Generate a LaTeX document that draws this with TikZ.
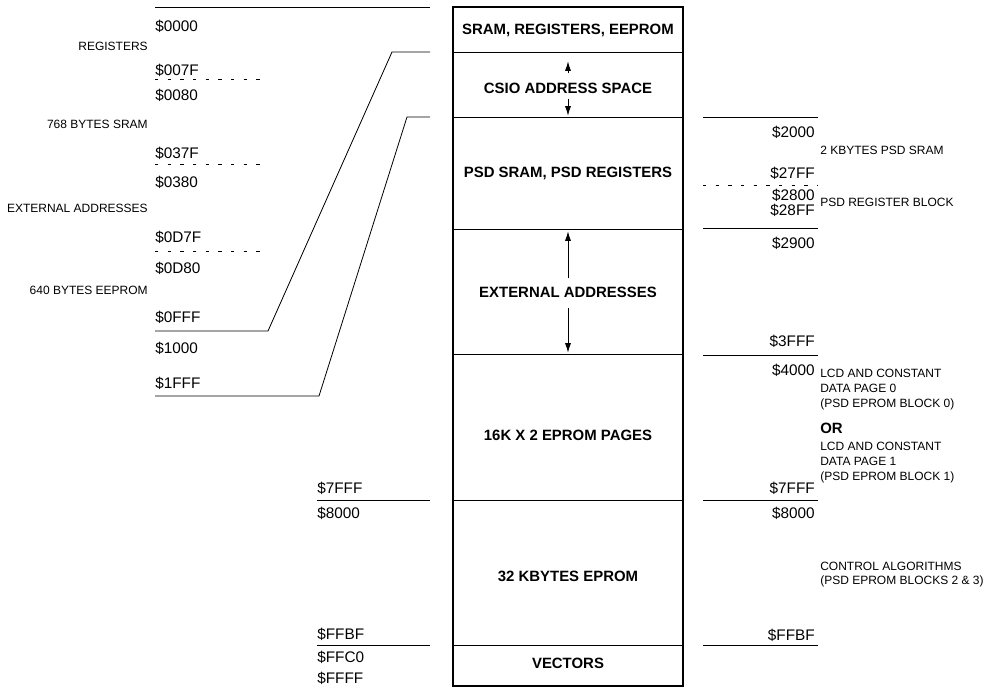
\documentclass[tikz,border=0pt]{standalone}
\usepackage{fontspec}
\setmainfont{Liberation Sans}
\usetikzlibrary{arrows.meta}

\begin{document}
\begin{tikzpicture}[
  x=0.75pt, y=-0.75pt,
  every node/.style={inner sep=0pt},
  addr/.style={font=\fontsize{11.5}{12}\selectfont},
  note/.style={font=\fontsize{9}{11.25}\selectfont, align=left},
  region/.style={font={\bfseries\fontsize{11.2}{12}\selectfont}},
  thinline/.style={line width=0.6pt},
  splitline/.style={thinline, dash pattern=on 2.5pt off 7pt},
  updown/.style={thinline, -{Latex[length=7pt,width=4.5pt]}}
]
\useasboundingbox (0,0) rectangle (989,687);

% memory map column
\draw[line width=1.4pt] (453,7) rectangle (683,686);
\foreach \y in {52,117,229,354,500,645}
  \draw[thinline] (453,\y) -- (683,\y);

\node[region] (sram)  at (568,30)  {SRAM, REGISTERS, EEPROM};
\node[region] (csio)  at (568,88)  {CSIO ADDRESS SPACE};
\node[region] (psd)   at (568,173) {PSD SRAM, PSD REGISTERS};
\node[region] (ext)   at (568,292) {EXTERNAL ADDRESSES};
\node[region] (pages) at (568,435) {16K X 2 EPROM PAGES};
\node[region] (eprom) at (568,576) {32 KBYTES EPROM};
\node[region] (vec)   at (568,663) {VECTORS};

\draw[updown] (csio.north) ++(0,-9) -- ++(0,-12);
\draw[updown] (csio.south) ++(0,5) -- ++(0,17);
\draw[updown] (ext.north) ++(0,-8) -- ++(0,-47);
\draw[updown] (ext.south) ++(0,10) -- ++(0,45);

% internal block, left
\draw[thinline] (155,7) -- (430,7);
\draw[thinline] (155,331) -- (268,331) -- (392,52) -- (430,52);
\draw[thinline] (155,396) -- (319,396) -- (407,117) -- (430,117);
\foreach \y in {79,164,251}
  \draw[splitline] (155,\y) -- (262,\y);
\draw[thinline] (317,500) -- (430,500);
\draw[thinline] (317,645) -- (430,645);

\foreach \y/\a in {26/0000,70/007F,95/0080,153/037F,182/0380,237/0D7F,268/0D80,317/0FFF,348/1000,383/1FFF}
  \node[addr, anchor=west] (lo\a) at (155,\y) {\$\a};
\foreach \y/\a in {488/7FFF,513/8000,634/FFBF,657/FFC0,678/FFFF}
  \node[addr, anchor=west] (hi\a) at (317,\y) {\$\a};

\node[note, anchor=east] (regs)  at (148,46)  {REGISTERS};
\node[note, anchor=east] (isram) at (148,124) {768 BYTES SRAM};
\node[note, anchor=east] (iext)  at (148,208) {EXTERNAL ADDRESSES};
\node[note, anchor=east] (ieep)  at (148,290) {640 BYTES EEPROM};

% PSD side, right
\foreach \y in {117,228,355,500,645}
  \draw[thinline] (703,\y) -- (818,\y);
\draw[splitline] (703,185) -- (818,185);

\foreach \y/\a in {132/2000,173/27FF,195/2800,210/28FF,243/2900,341/3FFF,370/4000,488/7FFF,513/8000,635/FFBF}
  \node[addr, anchor=east] (ps\a) at (815,\y) {\$\a};

\node[note, anchor=west] (psram) at (820,150) {2 KBYTES PSD SRAM};
\node[note, anchor=west] (preg)  at (820,202) {PSD REGISTER BLOCK};
\node[note, anchor=west] (page0) at (820,390) {LCD AND CONSTANT\\DATA PAGE 0\\(PSD EPROM BLOCK 0)};
\node[region, anchor=west] (or)  at (820,428) {OR};
\node[note, anchor=west] (page1) at (820,463) {LCD AND CONSTANT\\DATA PAGE 1\\(PSD EPROM BLOCK 1)};
\node[note, anchor=west, font=\fontsize{9}{10.5}\selectfont] (ctrl) at (820,575)
  {CONTROL ALGORITHMS\\(PSD EPROM BLOCKS 2 \& 3)};
\end{tikzpicture}
\end{document}
